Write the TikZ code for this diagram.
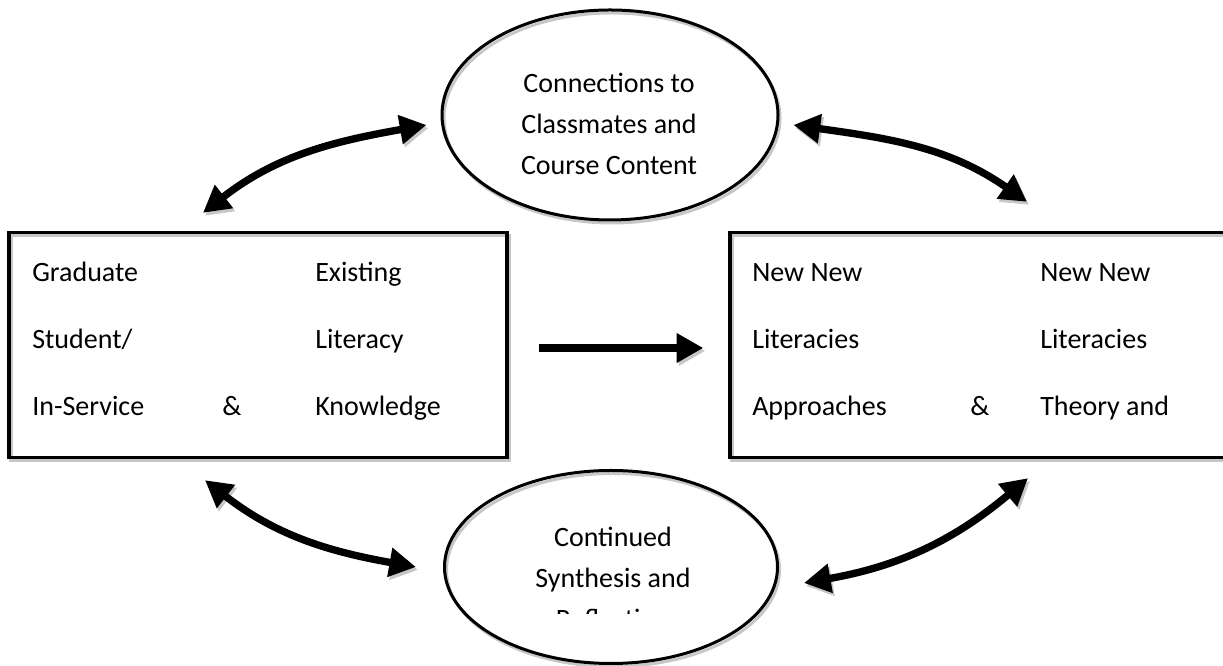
\documentclass[tikz,border=0pt]{standalone}
\usepackage{fontspec}
\setmainfont{Carlito}
\usetikzlibrary{arrows.meta,shapes.geometric,calc}

\def\px{0.75pt}

\tikzset{
  shadowed/.style={preaction={draw=black!22, transform canvas={shift={(1.5pt,-2.25pt)}}}},
  framebox/.style={draw, line width=2.5pt, minimum width=498*\px, minimum height=225*\px, inner sep=0pt, shadowed},
  bubble/.style={ellipse, draw, line width=2.25pt, inner sep=0pt, shadowed},
  txt/.style={font=\fontsize{21}{25}\selectfont, inner sep=0pt, anchor=base west},
  bigarrow/.style={line width=5.5pt, {Triangle[length=20pt,width=21pt]}-{Triangle[length=20pt,width=21pt]}, shadowed},
  onearrow/.style={line width=6pt, -{Triangle[length=20pt,width=21pt]}, shadowed}
}

\begin{document}
\begin{tikzpicture}[x=\px, y=\px]
    \useasboundingbox (0,0) rectangle (1223,666);

    % boxes
    \node[framebox] (grad) at (258,321) {};
    \node[framebox] (newlit) at (979,321) {};

    % ellipses
    \node[bubble, minimum width=336*\px, minimum height=210*\px] (conn) at (610,551) {};
    \node[bubble, minimum width=333*\px, minimum height=193*\px] (synth) at (611,99) {};

    % left box text
    \foreach \y/\a/\b [count=\i] in {384/Graduate/Existing, 317/{Student/}/Literacy, 250/In-Service/Knowledge}{
        \node[txt] (gl\i) at (32,\y) {\a};
        \node[txt] (gr\i) at (315,\y) {\b};
    }
    \node[txt] (gamp) at (222,250) {\&};

    % right box text
    \foreach \y/\a/\b [count=\i] in {384/New New/New New, 317/Literacies/Literacies, 250/Approaches/Theory and}{
        \node[txt] (nl\i) at (752,\y) {\a};
        \node[txt] (nr\i) at (1040,\y) {\b};
    }
    \node[txt] (namp) at (970,250) {\&};

    % ellipse text
    \foreach \t [count=\i] in {Connections to, Classmates and, Course Content}
        \node[txt, anchor=base] (conn\i) at (609,614-41*\i) {\t};
    \foreach \t [count=\i] in {Continued, Synthesis and}
        \node[txt, anchor=base] (syn\i) at (613,160-41*\i) {\t};
    \begin{scope}
        \clip (500,52) rectangle (720,62);
        \node[txt, anchor=base] (syn3) at (613,37) {Reflection};
    \end{scope}

    % curved arrows
    \draw[bigarrow] ($(grad.north)+(-55,18)$) to[out=38,in=190] ($(conn.west)+(-14,-10)$);
    \draw[bigarrow] ($(conn.east)+(14,-10)$) to[out=-8,in=145] ($(newlit.north)+(48,29)$);
    \draw[bigarrow] ($(grad.south)+(-53,-21)$) to[out=-38,in=170] ($(synth.west)+(-27,0)$);
    \draw[bigarrow] ($(synth.east)+(25,-16)$) to[out=10,in=220] ($(newlit.south)+(49,-19)$);

    % middle arrow
    \draw[onearrow] ($(grad.east)+(30,-3)$) -- ($(newlit.west)+(-25,-3)$);

\end{tikzpicture}
\end{document}
